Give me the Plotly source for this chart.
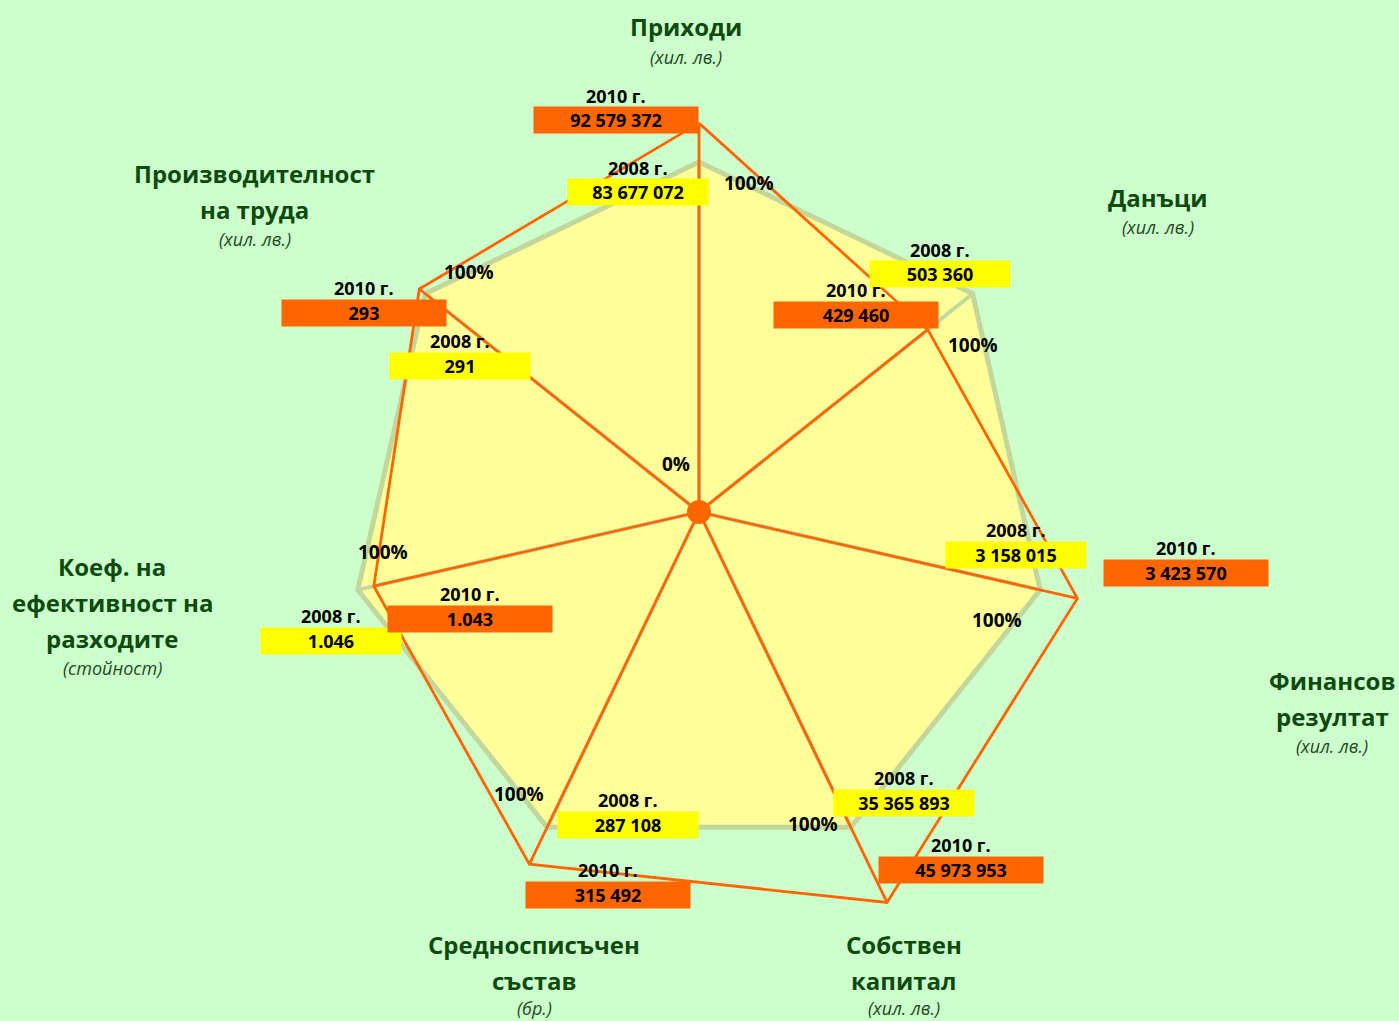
import plotly.graph_objects as go

# ---------------- data ----------------
CATEGORIES = ["Приходи", "Данъци", "Финансов резултат", "Собствен капитал",
              "Средносписъчен състав", "Коеф. на ефективност на разходите",
              "Производителност на труда"]
TITLE_LINES = [["Приходи"], ["Данъци"], ["Финансов", "резултат"], ["Собствен", "капитал"],
               ["Средносписъчен", "състав"], ["Коеф. на", "ефективност на", "разходите"],
               ["Производителност", "на труда"]]
UNITS = ["(хил. лв.)", "(хил. лв.)", "(хил. лв.)", "(хил. лв.)", "(бр.)", "(стойност)", "(хил. лв.)"]
LABELS_2008 = ["83 677 072", "503 360", "3 158 015", "35 365 893", "287 108", "1.046", "291"]
LABELS_2010 = ["92 579 372", "429 460", "3 423 570", "45 973 953", "315 492", "1.043", "293"]
PCT_2008 = [100, 100, 100, 100, 100, 100, 100]
PCT_2010 = [111.1, 83.6, 110.9, 123.8, 111.7, 95.3, 102.2]
YEAR_2008 = "2008 г."
YEAR_2010 = "2010 г."
PCT_TICKS = ["0%", "100%"]

# ---------------- layout helpers ----------------
W, H = 1399, 1021
CX, CY = 699, 512
R100 = 350
RMAX = 130
RPX = R100 * RMAX / 100

GREEN_BG = "#CCFFCC"
FILL_2008 = "#FFFF99"
EDGE_2008 = "#C3D69B"
ORANGE = "#FF6600"
YELLOW = "#FFFF00"
TITLE_COLOR = "#0D4A0D"
FONT = "Open Sans"


def px(x):
    return x / W


def py(y):
    return 1 - y / H


# pixel positions of title first lines (center) and unit-line offsets
TITLE_POS = [(686, 27), (1158, 197), (1332, 680), (904, 944), (534, 944), (112, 566), (255, 173)]
UNIT_GAP = [30, 30, 30, 28, 28, 30, 30]
BOX08_POS = [(638, 192.5), (940, 274.5), (1016, 554.5), (903.5, 802.5), (628, 825), (331, 640.5), (459.5, 366)]
BOX10_POS = [(616, 120.5), (856, 314.5), (1186, 573), (961, 870), (608, 895), (470, 619), (364, 313)]
PCT_POS = [(749, 183), (973, 345), (997, 620), (813, 824), (519, 794), (383, 552), (469, 272)]
ZERO_POS = (676, 464)

fig = go.Figure()

theta_closed = CATEGORIES + [CATEGORIES[0]]

# 2008 polygon (100%)
fig.add_trace(go.Scatterpolar(
    r=PCT_2008 + [PCT_2008[0]], theta=theta_closed, mode="lines",
    fill="toself", fillcolor=FILL_2008,
    line=dict(color=EDGE_2008, width=5), hoverinfo="skip"))

# 2008 spokes
sr, st = [], []
for c, v in zip(CATEGORIES, PCT_2008):
    sr += [0, v, None]
    st += [c, c, c]
fig.add_trace(go.Scatterpolar(r=sr, theta=st, mode="lines",
                              line=dict(color=EDGE_2008, width=4), hoverinfo="skip"))

# 2010 polygon
fig.add_trace(go.Scatterpolar(
    r=PCT_2010 + [PCT_2010[0]], theta=theta_closed, mode="lines",
    line=dict(color=ORANGE, width=2.8), hoverinfo="skip"))

# 2010 spokes
sr, st = [], []
for c, v in zip(CATEGORIES, PCT_2010):
    sr += [0, v, None]
    st += [c, c, c]
fig.add_trace(go.Scatterpolar(r=sr, theta=st, mode="lines",
                              line=dict(color=ORANGE, width=2.8), hoverinfo="skip"))

# center dot
fig.add_trace(go.Scatterpolar(r=[0], theta=[CATEGORIES[0]], mode="markers",
                              marker=dict(color=ORANGE, size=24), hoverinfo="skip"))

ann = []

# category titles
for lines, unit, (x, y), gap in zip(TITLE_LINES, UNITS, TITLE_POS, UNIT_GAP):
    for i, ln in enumerate(lines):
        ann.append(dict(x=px(x), y=py(y + 36 * i), xref="paper", yref="paper",
                        text=ln, showarrow=False, xanchor="center", yanchor="middle",
                        font=dict(family=FONT, size=24, color=TITLE_COLOR, weight="bold")))
    ann.append(dict(x=px(x), y=py(y + 36 * (len(lines) - 1) + gap), xref="paper", yref="paper",
                    text="<i>" + unit + "</i>", showarrow=False, xanchor="center", yanchor="middle",
                    font=dict(family=FONT, size=18, color="#1E4A1E")))


# value boxes
def add_box(label, year, pos, w, color):
    x, y = pos
    ann.append(dict(x=px(x), y=py(y), xref="paper", yref="paper", text=label,
                    showarrow=False, xanchor="center", yanchor="middle",
                    width=w, height=26, borderpad=0, bgcolor=color,
                    font=dict(family=FONT, size=18, color="black", weight="bold")))
    ann.append(dict(x=px(x), y=py(y - 25), xref="paper", yref="paper", text=year,
                    showarrow=False, xanchor="center", yanchor="middle",
                    font=dict(family=FONT, size=18, color="black", weight="bold")))


for lab, pos in zip(LABELS_2008, BOX08_POS):
    add_box(lab, YEAR_2008, pos, 140, YELLOW)
for lab, pos in zip(LABELS_2010, BOX10_POS):
    add_box(lab, YEAR_2010, pos, 164, ORANGE)

# percent labels
for (x, y) in PCT_POS:
    ann.append(dict(x=px(x), y=py(y), xref="paper", yref="paper", text=PCT_TICKS[1],
                    showarrow=False, xanchor="center", yanchor="middle",
                    font=dict(family=FONT, size=19, color="black", weight="bold")))
ann.append(dict(x=px(ZERO_POS[0]), y=py(ZERO_POS[1]), xref="paper", yref="paper", text=PCT_TICKS[0],
                showarrow=False, xanchor="center", yanchor="middle",
                font=dict(family=FONT, size=19, color="black", weight="bold")))

fig.update_layout(
    width=W, height=H,
    margin=dict(l=0, r=0, t=0, b=0),
    paper_bgcolor=GREEN_BG, plot_bgcolor=GREEN_BG,
    showlegend=False,
    polar=dict(
        domain=dict(x=[px(CX - RPX), px(CX + RPX)], y=[1 - (CY + RPX) / H, 1 - (CY - RPX) / H]),
        bgcolor="rgba(0,0,0,0)",
        radialaxis=dict(visible=False, range=[0, RMAX], showgrid=False, showline=False),
        angularaxis=dict(rotation=90, direction="clockwise", showgrid=False, showline=False,
                         showticklabels=False, ticks=""),
    ),
    annotations=ann,
)

fig.write_html("out.html", config={"displayModeBar": False},
               post_script="document.body.style.margin='0';document.body.style.overflow='hidden';")
